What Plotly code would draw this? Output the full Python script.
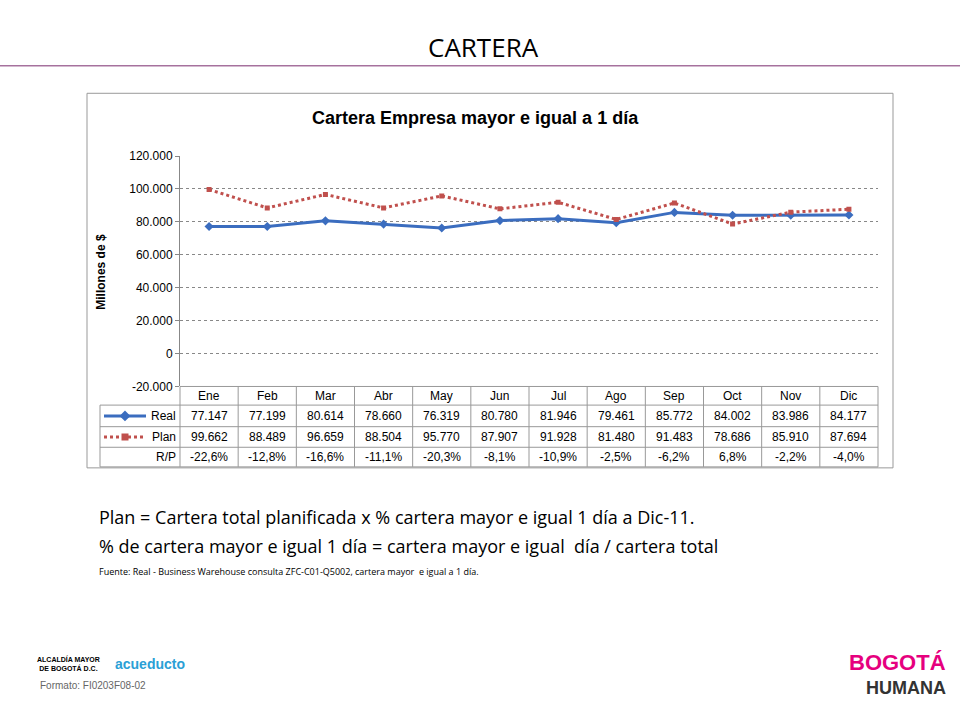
import plotly.graph_objects as go

months = ["Ene","Feb","Mar","Abr","May","Jun","Jul","Ago","Sep","Oct","Nov","Dic"]
real = [77147,77199,80614,78660,76319,80780,81946,79461,85772,84002,83986,84177]
plan = [99662,88489,96659,88504,95770,87907,91928,81480,91483,78686,85910,87694]
rp = ["-22,6%","-12,8%","-16,6%","-11,1%","-20,3%","-8,1%","-10,9%","-2,5%","-6,2%","6,8%","-2,2%","-4,0%"]
yticks = [-20000,0,20000,40000,60000,80000,100000,120000]
ytext = ["-20.000","0","20.000","40.000","60.000","80.000","100.000","120.000"]
fmt = lambda v: f"{v:,}".replace(",", ".")

W, H = 960, 720
px = lambda x: x / W
py = lambda y: 1 - y / H
X0, X1, YT, YB = 180, 878, 152, 387
BLUE, RED = "#3b6dbf", "#c0504d"

fig = go.Figure()
fig.add_trace(go.Scatter(x=months, y=real, mode="lines+markers", line=dict(color=BLUE, width=3),
                         marker=dict(symbol="diamond", size=7, color=BLUE)))
fig.add_trace(go.Scatter(x=months, y=plan, mode="lines+markers", line=dict(color=RED, width=3, dash="dot"),
                         marker=dict(symbol="square", size=5, color=RED)))
fig.update_layout(
    width=W, height=H, margin=dict(l=0, r=0, t=0, b=0), showlegend=False,
    paper_bgcolor="white", plot_bgcolor="white", font=dict(family="Liberation Sans", color="black"),
    xaxis=dict(domain=[px(X0), px(X1)], showticklabels=False, showgrid=False, zeroline=False, range=[-0.5, 11.5]),
    yaxis=dict(domain=[py(YB), py(YT)], range=[-20000, 120000], tickvals=yticks, ticktext=ytext,
               tickfont=dict(size=12), showgrid=True, gridcolor="#888", griddash="dot", gridwidth=1,
               zeroline=False, showline=True, linecolor="#888", ticks="outside", ticklen=4, tickcolor="#888"),
)
shapes, ann = [], []
def line(x0, y0, x1, y1, color="#999", width=1, dash=None):
    shapes.append(dict(type="line", xref="paper", yref="paper", x0=px(x0), y0=py(y0), x1=px(x1), y1=py(y1),
                       line=dict(color=color, width=width, dash=dash)))
def text(x, y, s, size=12, anchor="center", color="black", bold=False, family=None, angle=0):
    d = dict(x=px(x), y=py(y), xref="paper", yref="paper", text=f"<b>{s}</b>" if bold else s, showarrow=False,
             xanchor=anchor, yanchor="middle", font=dict(size=size, color=color), textangle=angle)
    if family: d["font"]["family"] = family
    ann.append(d)

shapes.append(dict(type="rect", xref="paper", yref="paper", x0=px(87), y0=py(470), x1=px(893), y1=py(88),
                   line=dict(color="#999", width=1), layer="below"))
text(483, 41, "CARTERA", size=26, family="Open Sans")
line(0, 60, 960, 60, color="#7b2c6e", width=1)
text(475, 113, "Cartera Empresa mayor e igual a 1 día", size=18, bold=True)
text(101, 270, "Millones de $", size=12, bold=True, angle=-90)

cw = (X1 - X0) / 12
rows = [387, 406, 428, 449, 469]
for i in range(13):
    line(X0 + i * cw, 387, X0 + i * cw, 469)
line(100, 406, 100, 469)
line(X0, 387, X1, 387)
for y in rows[1:]:
    line(100, y, X1, y)
for i, m in enumerate(months):
    cx = X0 + (i + 0.5) * cw
    text(cx, 397, m, size=12)
    text(cx, 417, fmt(real[i]), size=12)
    text(cx, 438.5, fmt(plan[i]), size=12)
    text(cx, 459, rp[i], size=12)
line(104, 417, 146, 417, color=BLUE, width=3)
shapes.append(dict(type="path", xref="paper", yref="paper",
                   path=f"M {px(125)},{py(413)} L {px(129)},{py(417)} L {px(125)},{py(421)} L {px(121)},{py(417)} Z",
                   fillcolor=BLUE, line=dict(color=BLUE)))
line(104, 438.5, 146, 438.5, color=RED, width=3, dash="dot")
shapes.append(dict(type="rect", xref="paper", yref="paper", x0=px(122.5), y0=py(441), x1=px(127.5), y1=py(436),
                   fillcolor=RED, line=dict(color=RED)))
text(178, 417, "Real", anchor="right")
text(178, 438.5, "Plan", anchor="right")
text(178, 459, "R/P", anchor="right")

text(97, 520, "Plan = Cartera total planificada x % cartera mayor e igual 1 día a Dic-11.", size=18, anchor="left", family="Open Sans")
text(97, 550, "% de cartera mayor e igual 1 día = cartera mayor e igual  día / cartera total", size=18, anchor="left", family="Open Sans")
text(97, 576, "Fuente: Real - Business Warehouse consulta ZFC-C01-Q5002, cartera mayor  e igual a 1 día.", size=9, anchor="left", family="Open Sans")
text(38, 692, "Formato: FI0203F08-02", size=10, anchor="left", color="#666")
text(68, 670, "ALCALDÍA MAYOR<br>DE BOGOTÁ D.C.", size=7, bold=True)
text(150, 670, "acueducto", size=14, color="#2a9fd6", bold=True)
text(948, 668, "BOGOTÁ", size=22, color="#e6007e", bold=True, anchor="right")
text(948, 695, "HUMANA", size=18, color="#333", bold=True, anchor="right")

fig.update_layout(shapes=shapes, annotations=ann)
fig.write_html("out.html", config={"displayModeBar": False},
               post_script="document.body.style.margin='0';document.body.style.overflow='hidden';")
